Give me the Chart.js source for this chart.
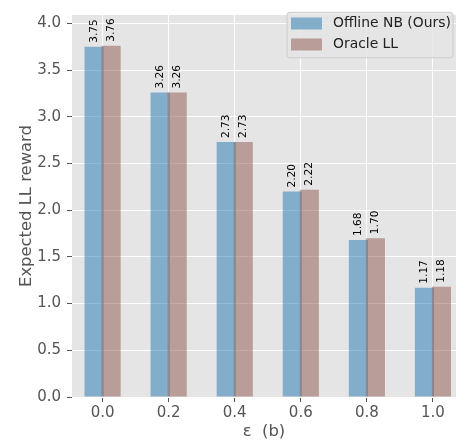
<!DOCTYPE html>
<html>
<head>
<meta charset="utf-8">
<script src="https://cdn.jsdelivr.net/npm/chart.js@4.4.1/dist/chart.umd.min.js"></script>
<style>
  html, body { margin: 0; padding: 0; background: #fff; }
  #wrap { width: 458px; height: 444px; }
</style>
</head>
<body>
<div id="wrap"><canvas id="rewardChart" width="458" height="444"></canvas></div>
<script>
// values
const epsilons = [0.0, 0.2, 0.4, 0.6, 0.8, 1.0];
const xTickLabels = ['0.0', '0.2', '0.4', '0.6', '0.8', '1.0'];
const offlineNB = [3.75, 3.26, 2.73, 2.20, 1.68, 1.17];
const oracleLL = [3.76, 3.26, 2.73, 2.22, 1.70, 1.18];
const yTicks = [0.0, 0.5, 1.0, 1.5, 2.0, 2.5, 3.0, 3.5, 4.0];
const seriesNames = ['Offline NB (Ours)', 'Oracle LL'];

const FONT = 'DejaVu Sans';
const colors = ['rgba(31, 119, 180, 0.5)', 'rgba(140, 86, 75, 0.5)'];

// gray axes background
const bgPlugin = {
  id: 'bg',
  beforeDraw(chart) {
    const { ctx, chartArea: a } = chart;
    ctx.save();
    ctx.fillStyle = '#fff';
    ctx.fillRect(0, 0, chart.width, chart.height);
    ctx.fillStyle = '#E5E5E5';
    ctx.fillRect(a.left, a.top, a.right - a.left, a.bottom - a.top);
    ctx.restore();
  }
};

// draw datasets in index order so the second bar sits on top
const orderPlugin = {
  id: 'order',
  beforeDatasetsDraw(chart) {
    const { ctx, chartArea: a } = chart;
    ctx.save();
    ctx.beginPath();
    ctx.rect(a.left, a.top, a.right - a.left, a.bottom - a.top);
    ctx.clip();
    chart.getSortedVisibleDatasetMetas().forEach(m => m.controller.draw());
    ctx.restore();
    return false;
  }
};

const labelPlugin = {
  id: 'barLabels',
  afterDraw(chart) {
    const { ctx } = chart;
    ctx.save();
    ctx.fillStyle = '#000';
    ctx.font = `10.6px "${FONT}"`;
    ctx.textAlign = 'left';
    ctx.textBaseline = 'middle';
    chart.data.datasets.forEach((ds, di) => {
      const vals = di === 0 ? offlineNB : oracleLL;
      chart.getDatasetMeta(di).data.forEach((bar, i) => {
        ctx.save();
        ctx.translate(bar.x, bar.y - 4);
        ctx.rotate(-Math.PI / 2);
        ctx.fillText(vals[i].toFixed(2), 0, 0);
        ctx.restore();
      });
    });

    // legend box in the upper right corner
    const lx = 287, ly = 12.3, lw = 166, lh = 45.5;
    ctx.beginPath();
    ctx.roundRect(lx, ly, lw, lh, 3);
    ctx.fillStyle = 'rgba(229, 229, 229, 0.8)';
    ctx.fill();
    ctx.strokeStyle = '#CCCCCC';
    ctx.lineWidth = 1;
    ctx.stroke();
    ctx.font = `13.9px "${FONT}"`;
    ctx.textBaseline = 'middle';
    seriesNames.forEach((name, i) => {
      const cy = 23.5 + i * 21;
      ctx.fillStyle = '#E5E5E5';
      ctx.fillRect(291, cy - 6, 31, 12);
      ctx.fillStyle = colors[i];
      ctx.fillRect(291, cy - 6, 31, 12);
      ctx.fillStyle = '#222';
      ctx.fillText(name, 333, cy);
    });
    ctx.restore();
  }
};

const ctx = document.getElementById('rewardChart').getContext('2d');

new Chart(ctx, {
  type: 'bar',
  data: {
    datasets: [
      {
        label: seriesNames[0],
        data: epsilons.map((e, i) => ({ x: e, y: offlineNB[i] })),
        backgroundColor: colors[0],
        borderWidth: 0
      },
      {
        label: seriesNames[1],
        data: epsilons.map((e, i) => ({ x: e, y: oracleLL[i] })),
        backgroundColor: colors[1],
        borderWidth: 0
      }
    ]
  },
  options: {
    responsive: false,
    animation: false,
    categoryPercentage: 0.516,
    barPercentage: 1.12,
    layout: { padding: { top: 14.7, right: 2, left: 0, bottom: 0 } },
    plugins: {
      legend: { display: false },
      tooltip: { enabled: false }
    },
    scales: {
      x: {
        type: 'linear',
        offset: false,
        min: -0.0926,
        max: 1.0698,
        afterBuildTicks: s => { s.ticks = epsilons.map(v => ({ value: v })); },
        afterFit: s => { s.height = 47; },
        border: { display: false },
        grid: {
          offset: false,
          color: '#fff',
          lineWidth: 1,
          drawTicks: true,
          tickLength: 5,
          tickColor: '#555'
        },
        ticks: {
          color: '#555',
          font: { family: FONT, size: 15 },
          padding: 2,
          maxRotation: 0,
          callback: (v, i) => xTickLabels[i]
        },
        title: {
          display: true,
          text: 'ε  (b)',
          color: '#555',
          font: { family: FONT, size: 16.4 },
          padding: { top: 0, bottom: 2 }
        }
      },
      y: {
        min: 0,
        max: 4.09,
        afterBuildTicks: s => { s.ticks = yTicks.map(v => ({ value: v })); },
        afterFit: s => { s.width = 72; },
        border: { display: false },
        grid: {
          color: '#fff',
          lineWidth: 1,
          drawTicks: true,
          tickLength: 5,
          tickColor: '#555'
        },
        ticks: {
          color: '#555',
          font: { family: FONT, size: 15 },
          padding: 6,
          callback: v => v.toFixed(1)
        },
        title: {
          display: true,
          text: 'Expected LL reward',
          color: '#555',
          font: { family: FONT, size: 16.4 },
          padding: { top: 16.7, bottom: 0 }
        }
      }
    }
  },
  plugins: [bgPlugin, orderPlugin, labelPlugin]
});
</script>
</body>
</html>
